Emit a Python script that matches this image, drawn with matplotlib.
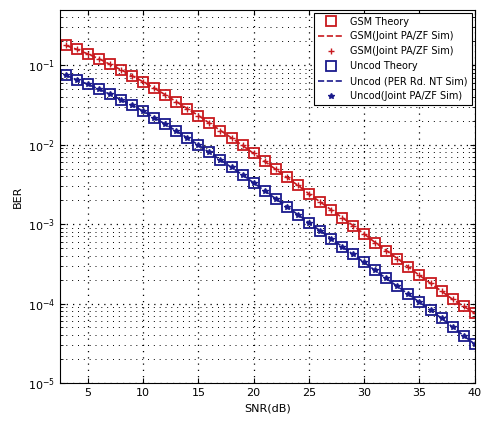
import numpy as np
import matplotlib
matplotlib.use("Agg")
import matplotlib.pyplot as plt
from matplotlib.ticker import LogLocator, NullFormatter

# SNR (dB)
snr = list(range(3, 41))

# GSM
ber_gsm = [0.178, 0.159, 0.139, 0.121, 0.103, 0.0879, 0.0738, 0.0621, 0.0515, 0.0427,
           0.0348, 0.0285, 0.0233, 0.0187, 0.0151, 0.0122, 0.00979, 0.00776, 0.00617, 0.00490,
           0.00388, 0.00308, 0.00241, 0.00191, 0.00152, 0.00121, 9.58e-4, 7.50e-4, 5.86e-4, 4.65e-4,
           3.69e-4, 2.89e-4, 2.26e-4, 1.80e-4, 1.43e-4, 1.13e-4, 9.23e-5, 7.55e-5]

# Uncoded
ber_unc = [0.0749, 0.0658, 0.0578, 0.0500, 0.0433, 0.0369, 0.0315, 0.0265, 0.0220, 0.0182,
           0.0149, 0.0122, 0.00993, 0.00799, 0.00644, 0.00518, 0.00418, 0.00331, 0.00263, 0.00209,
           0.00166, 0.00132, 0.00104, 8.29e-4, 6.58e-4, 5.22e-4, 4.15e-4, 3.29e-4, 2.61e-4, 2.07e-4,
           1.65e-4, 1.31e-4, 1.04e-4, 8.23e-5, 6.53e-5, 5.04e-5, 3.94e-5, 3.08e-5]

labels = ['GSM Theory', 'GSM(Joint PA/ZF Sim)', 'GSM(Joint PA/ZF Sim)',
          'Uncod Theory', 'Uncod (PER Rd. NT Sim)', 'Uncod(Joint PA/ZF Sim)']

red = '#c8191e'
blue = '#1a1a8c'

fig = plt.figure(figsize=(4.93, 4.26), dpi=100)
ax = fig.add_axes([0.122, 0.101, 0.841, 0.876])

ax.semilogy(snr, ber_gsm, 's', color=red, mfc='none', ms=7, mew=1.3, label=labels[0])
ax.semilogy(snr, ber_gsm, '--', color=red, lw=1.2, label=labels[1])
ax.semilogy(snr, ber_gsm, '+', color=red, ms=4, mew=1, label=labels[2])
ax.semilogy(snr, ber_unc, 's', color=blue, mfc='none', ms=7, mew=1.3, label=labels[3])
ax.semilogy(snr, ber_unc, '--', color=blue, lw=1.2, label=labels[4])
ax.semilogy(snr, ber_unc, '*', color=blue, ms=4, mew=1, label=labels[5])

ax.set_xlim(2.5, 40)
ax.set_ylim(1e-5, 0.5)
ax.set_xticks([5, 10, 15, 20, 25, 30, 35, 40])
ax.yaxis.set_major_locator(LogLocator(base=10, numticks=10))
ax.yaxis.set_minor_locator(LogLocator(base=10, subs=np.arange(2, 10), numticks=10))
ax.yaxis.set_minor_formatter(NullFormatter())
ax.tick_params(labelsize=8, direction='in', which='both', top=True, right=True)

ax.grid(True, which='major', linestyle=(0, (1, 4)), color='k', lw=0.9)
ax.grid(True, which='minor', axis='y', linestyle=(0, (1, 5)), color='k', lw=0.7)

ax.set_xlabel('SNR(dB)', fontsize=8)
ax.set_ylabel('BER', fontsize=8)

leg = ax.legend(loc='upper right', fontsize=7, fancybox=False, framealpha=1,
                edgecolor='k', borderaxespad=0.3, handlelength=2.5)
leg.get_frame().set_linewidth(0.8)

fig.savefig('out.png', dpi=100)
